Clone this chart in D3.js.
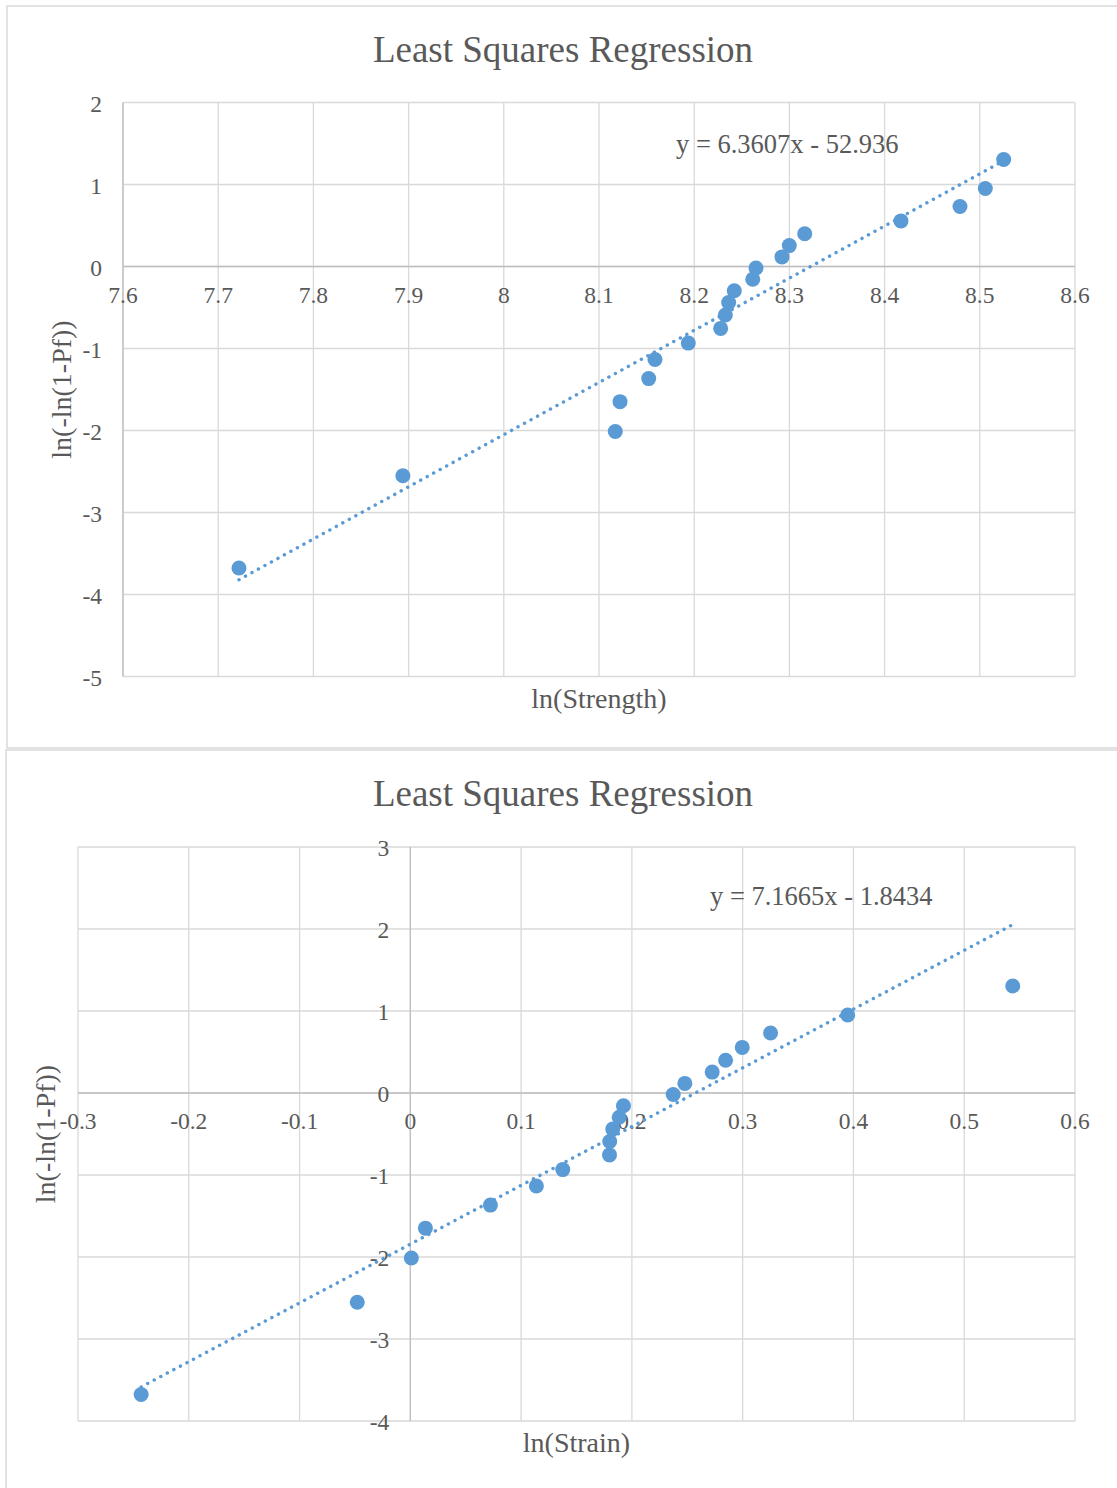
<!DOCTYPE html>
<html>
<head>
<meta charset="utf-8">
<script src="https://cdn.jsdelivr.net/npm/d3@7"></script>
<style>
  body { margin: 0; background: #fff; }
  svg text { font-family: "Liberation Serif", "Times New Roman", serif; fill: #595959; }
</style>
</head>
<body>
<script>

// ln(-ln(1-Pf)), shared by both charts
var lnPf = [-3.676, -2.552, -2.013, -1.648, -1.367, -1.135, -0.934, -0.755, -0.592, -0.440,
            -0.295, -0.156, -0.019, 0.117, 0.255, 0.400, 0.556, 0.732, 0.952, 1.305];

var lnStrength = [7.7218, 7.8940, 8.1171, 8.1221, 8.1522, 8.1588, 8.1938, 8.2278, 8.2327, 8.2362,
                  8.2421, 8.2615, 8.2649, 8.2922, 8.2999, 8.3161, 8.4172, 8.4792, 8.5058, 8.5251];

var lnStrain = [-0.2430, -0.0479, 0.0009, 0.0136, 0.0723, 0.1138, 0.1376, 0.1798, 0.1800, 0.1827,
                0.1885, 0.1924, 0.2373, 0.2478, 0.2725, 0.2846, 0.2996, 0.3252, 0.3948, 0.5438];

var strengthFit = { slope: 6.3607, intercept: -52.936, label: "y = 6.3607x - 52.936" };
var strainFit = { slope: 7.1665, intercept: -1.8434, label: "y = 7.1665x - 1.8434" };

var strengthXTicks = [7.6, 7.7, 7.8, 7.9, 8, 8.1, 8.2, 8.3, 8.4, 8.5, 8.6];
var strengthYTicks = [-5, -4, -3, -2, -1, 0, 1, 2];
var strainXTicks = [-0.3, -0.2, -0.1, 0, 0.1, 0.2, 0.3, 0.4, 0.5, 0.6];
var strainYTicks = [-4, -3, -2, -1, 0, 1, 2, 3];

var blue = "#5B9BD5",
    grid = "#D9D9D9",
    axisColor = "#BFBFBF";

var svg = d3.select("body").append("svg")
    .attr("width", 1117)
    .attr("height", 1488);

svg.append("rect").attr("width", 1117).attr("height", 1488).attr("fill", "#fff");

// chart frames
svg.append("rect")
    .attr("x", 7).attr("y", 6).attr("width", 1130).attr("height", 742)
    .attr("fill", "none").attr("stroke", grid).attr("stroke-width", 1.5);
svg.append("rect")
    .attr("x", 6).attr("y", 750).attr("width", 1130).attr("height", 760)
    .attr("fill", "none").attr("stroke", grid).attr("stroke-width", 1.5);

function drawChart(opt) {
    var g = svg.append("g");

    var x = d3.scaleLinear().domain(d3.extent(opt.xTicks)).range([opt.left, opt.right]);
    var y = d3.scaleLinear().domain(d3.extent(opt.yTicks)).range([opt.bottom, opt.top]);

    // gridlines
    g.append("g").selectAll("line")
        .data(opt.xTicks)
        .enter().append("line")
        .attr("x1", function (d) { return x(d); })
        .attr("x2", function (d) { return x(d); })
        .attr("y1", opt.top).attr("y2", opt.bottom)
        .attr("stroke", grid).attr("stroke-width", 1.3);

    g.append("g").selectAll("line")
        .data(opt.yTicks)
        .enter().append("line")
        .attr("y1", function (d) { return y(d); })
        .attr("y2", function (d) { return y(d); })
        .attr("x1", opt.left).attr("x2", opt.right)
        .attr("stroke", grid).attr("stroke-width", 1.3);

    // axis lines
    var xCross = opt.yAxisAt;
    g.append("line")
        .attr("x1", x(xCross)).attr("x2", x(xCross))
        .attr("y1", opt.top).attr("y2", opt.bottom)
        .attr("stroke", axisColor).attr("stroke-width", 1.3);
    g.append("line")
        .attr("x1", opt.left).attr("x2", opt.right)
        .attr("y1", y(0)).attr("y2", y(0))
        .attr("stroke", axisColor).attr("stroke-width", 1.3);

    // tick labels
    g.append("g").selectAll("text")
        .data(opt.xTicks)
        .enter().append("text")
        .attr("x", function (d) { return x(d); })
        .attr("y", y(0) + 36)
        .attr("text-anchor", "middle")
        .style("font-size", "23.5px")
        .text(function (d) { return d; });

    g.append("g").selectAll("text")
        .data(opt.yTicks)
        .enter().append("text")
        .attr("x", x(xCross) - 21)
        .attr("y", function (d) { return y(d) + 9; })
        .attr("text-anchor", "end")
        .style("font-size", "23.5px")
        .text(function (d) { return d; });

    // trendline
    var xr = d3.extent(opt.xs);
    g.append("line")
        .attr("x1", x(xr[0])).attr("y1", y(opt.fit.slope * xr[0] + opt.fit.intercept))
        .attr("x2", x(xr[1])).attr("y2", y(opt.fit.slope * xr[1] + opt.fit.intercept))
        .attr("stroke", blue).attr("stroke-width", 3.4)
        .attr("stroke-linecap", "round")
        .attr("stroke-dasharray", "0.1 7.3");

    // points
    g.append("g").selectAll("circle")
        .data(opt.xs)
        .enter().append("circle")
        .attr("cx", function (d) { return x(d); })
        .attr("cy", function (d, i) { return y(opt.ys[i]); })
        .attr("r", 7.5)
        .attr("fill", blue);

    // titles
    g.append("text")
        .attr("x", 563).attr("y", opt.titleY)
        .attr("text-anchor", "middle")
        .style("font-size", "37px")
        .text("Least Squares Regression");

    g.append("text")
        .attr("x", (opt.left + opt.right) / 2).attr("y", opt.bottom + 31)
        .attr("text-anchor", "middle")
        .style("font-size", "28px")
        .text(opt.xTitle);

    g.append("text")
        .attr("transform", "translate(" + opt.yTitleX + "," + (opt.top + opt.bottom) / 2 + ") rotate(-90)")
        .attr("text-anchor", "middle")
        .style("font-size", "28px")
        .text("ln(-ln(1-Pf))");

    g.append("text")
        .attr("x", opt.eqX).attr("y", opt.eqY)
        .style("font-size", "26.5px")
        .text(opt.fit.label);
}

drawChart({
    xs: lnStrength, ys: lnPf, fit: strengthFit,
    xTicks: strengthXTicks, yTicks: strengthYTicks, yAxisAt: 7.6,
    left: 123, right: 1075, top: 102.5, bottom: 676.5,
    titleY: 62, xTitle: "ln(Strength)", yTitleX: 71,
    eqX: 676, eqY: 153
});

drawChart({
    xs: lnStrain, ys: lnPf, fit: strainFit,
    xTicks: strainXTicks, yTicks: strainYTicks, yAxisAt: 0,
    left: 78, right: 1075, top: 847, bottom: 1421,
    titleY: 806, xTitle: "ln(Strain)", yTitleX: 55,
    eqX: 710, eqY: 905
});

</script>
</body>
</html>
